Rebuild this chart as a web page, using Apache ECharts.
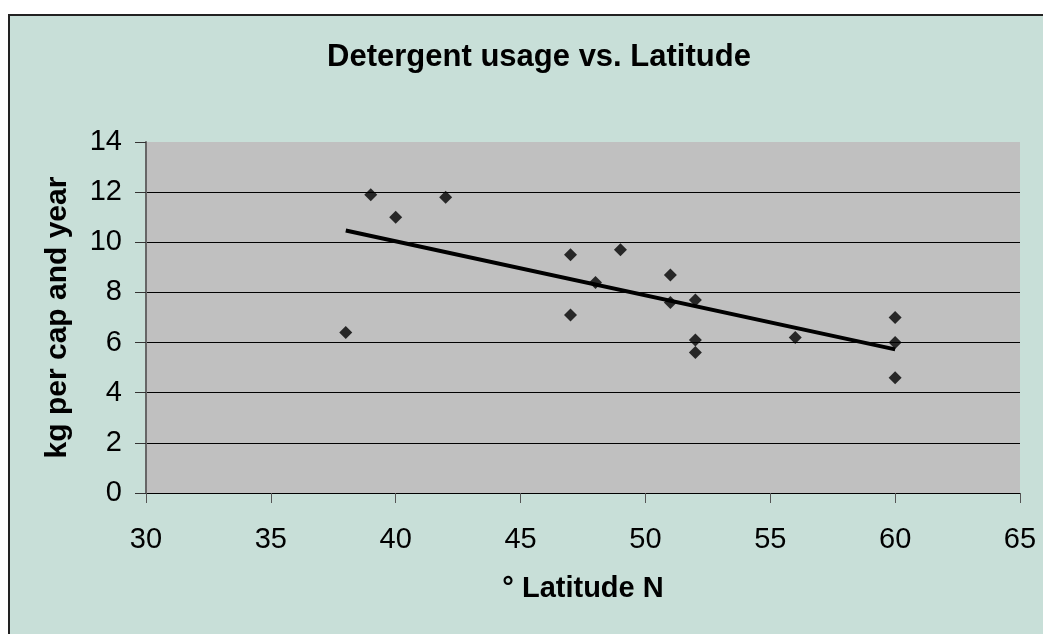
<!DOCTYPE html>
<html>
<head>
<meta charset="utf-8">
<script src="https://cdn.jsdelivr.net/npm/echarts@6/dist/echarts.min.js"></script>
<style>
    html, body { margin: 0; padding: 0; background: #ffffff; }
    #frame {
        position: absolute; left: 8px; top: 14px; width: 1100px; height: 700px;
        background: #c8dfd8; border-left: 2px solid #222; border-top: 2px solid #222;
    }
    #main { position: absolute; left: 0; top: 0; width: 1043px; height: 634px; }
</style>
</head>
<body>
<div id="frame"></div>
<div id="main"></div>
<script>
// latitude (° N) and detergent usage (kg per cap and year)
var latitude = [38, 39, 40, 42, 47, 47, 48, 49, 51, 51, 52, 52, 52, 56, 60, 60, 60];
var usage = [6.4, 11.9, 11.0, 11.8, 9.5, 7.1, 8.4, 9.7, 8.7, 7.6, 7.7, 6.1, 5.6, 6.2, 7.0, 6.0, 4.6];
var xTicks = [30, 35, 40, 45, 50, 55, 60, 65];
var yTicks = [0, 2, 4, 6, 8, 10, 12, 14];

// linear trend line (least squares)
function trend(xs, ys) {
    var n = xs.length, sx = 0, sy = 0, sxx = 0, sxy = 0;
    for (var i = 0; i < n; i++) {
        sx += xs[i]; sy += ys[i];
        sxx += xs[i] * xs[i]; sxy += xs[i] * ys[i];
    }
    var b = (n * sxy - sx * sy) / (n * sxx - sx * sx);
    var a = (sy - b * sx) / n;
    var x0 = Math.min.apply(null, xs), x1 = Math.max.apply(null, xs);
    return [[x0, a + b * x0], [x1, a + b * x1]];
}

var points = latitude.map(function (v, i) { return [v, usage[i]]; });
var font = '"Liberation Sans", Arial, sans-serif';

var myChart = echarts.init(document.getElementById('main'));
var option = {
    backgroundColor: 'transparent',
    animation: false,
    title: {
        text: 'Detergent usage vs. Latitude',
        left: 534,
        textAlign: 'center',
        top: 37,
        textStyle: { fontFamily: font, fontSize: 31, fontWeight: 'bold', color: '#000' }
    },
    grid: {
        left: 146, right: 23, top: 142, bottom: 141,
        show: true, backgroundColor: '#c0c0c0', borderWidth: 0
    },
    xAxis: {
        type: 'value',
        min: xTicks[0], max: xTicks[xTicks.length - 1], interval: 5,
        name: '° Latitude N',
        nameLocation: 'middle',
        nameGap: 81,
        nameTextStyle: { fontFamily: font, fontSize: 29, fontWeight: 'bold', color: '#000' },
        axisLine: { lineStyle: { color: '#000', width: 1 } },
        axisTick: { length: 10, lineStyle: { color: '#555' } },
        axisLabel: { margin: 32, fontFamily: font, fontSize: 29, color: '#000' },
        splitLine: { show: false }
    },
    yAxis: {
        type: 'value',
        min: yTicks[0], max: yTicks[yTicks.length - 1], interval: 2,
        name: 'kg per cap and year',
        nameLocation: 'middle',
        nameGap: 73,
        nameTextStyle: { fontFamily: font, fontSize: 30, fontWeight: 'bold', color: '#000' },
        axisLine: { show: true, lineStyle: { color: '#666', width: 2 } },
        axisTick: { show: true, length: 11, lineStyle: { color: '#333' } },
        axisLabel: { margin: 24, fontFamily: font, fontSize: 29, color: '#000' },
        splitLine: {
            show: true,
            lineStyle: { color: ['#000', '#000', '#000', '#000', '#000', '#000', '#000', '#c0c0c0'], width: 1 }
        }
    },
    series: [{
        type: 'scatter',
        symbol: 'diamond',
        symbolSize: 13,
        itemStyle: { color: '#000' },
        data: points,
        z: 3
    }, {
        type: 'line',
        data: trend(latitude, usage),
        symbol: 'none',
        lineStyle: { color: '#000', width: 4 },
        z: 2
    }]
};
myChart.setOption(option);
</script>
</body>
</html>
